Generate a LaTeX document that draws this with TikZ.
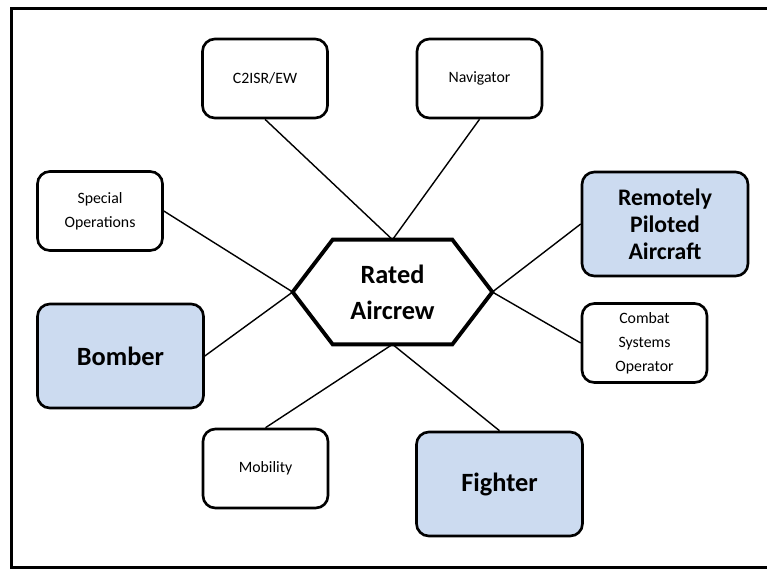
\documentclass[tikz,border=0pt]{standalone}
\usepackage{fontspec}
\setmainfont{Carlito}
\definecolor{rolefill}{RGB}{204,219,240}

\begin{document}
\begin{tikzpicture}[x=0.02cm,y=-0.02cm,
  role/.style={draw,line width=1.5pt,rounded corners=7pt,align=center,inner sep=0pt,
    minimum width=2.5cm,minimum height=1.58cm,font=\fontsize{9}{13.6}\selectfont},
  bigrole/.style={role,fill=rolefill,minimum width=3.32cm,minimum height=2.08cm,
    font=\bfseries\fontsize{15}{18}\selectfont},
  link/.style={line width=0.8pt}]
\useasboundingbox (0,0) rectangle (767,569);
\draw[line width=1.7pt] (11.5,8.5) rectangle (790,567);

\node[minimum width=3.98cm,minimum height=2.08cm,inner sep=0pt,align=center,
  font=\bfseries\fontsize{15}{20.4}\selectfont] (crew) at (392.5,292) {Rated\\Aircrew};
\draw[line width=2.2pt] (crew.west) -- ([xshift=0.8cm]crew.north west)
  -- ([xshift=-0.8cm]crew.north east) -- (crew.east)
  -- ([xshift=-0.8cm]crew.south east) -- ([xshift=0.8cm]crew.south west) -- cycle;

\node[role] (c2isr) at (265,78.5) {C2ISR/EW};
\node[role] (nav) at (479.5,78.5) {Navigator};
\node[role] (specops) at (100,211) {Special\\Operations};
\node[bigrole,font=\bfseries\fontsize{13.5}{15.5}\selectfont] (rpa) at (665,224) {Remotely\\Piloted\\Aircraft};
\node[bigrole] (bomber) at (120.5,356) {Bomber};
\node[role] (cso) at (644.5,343) {Combat\\Systems\\Operator};
\node[role] (mobility) at (265.5,468.5) {Mobility};
\node[bigrole] (fighter) at (499.5,484) {Fighter};

\draw[link] (c2isr.south) -- (crew.north);
\draw[link] (nav.south) -- (crew.north);
\draw[link] (specops.east) -- (crew.west);
\draw[link] (bomber.east) -- (crew.west);
\draw[link] (rpa.west) -- (crew.east);
\draw[link] (cso.west) -- (crew.east);
\draw[link] (mobility.north) -- (crew.south);
\draw[link] (fighter.north) -- (crew.south);
\end{tikzpicture}
\end{document}
